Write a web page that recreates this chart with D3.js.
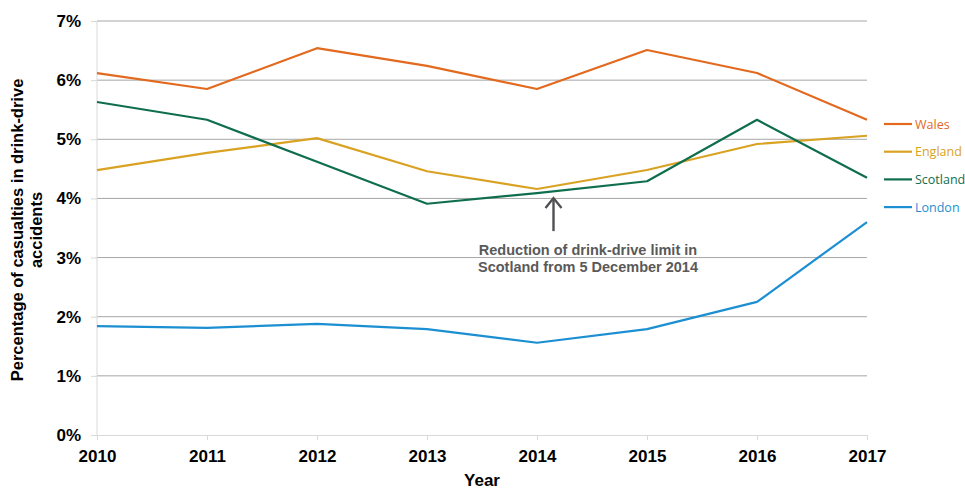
<!DOCTYPE html>
<html><head><meta charset="utf-8">
<script src="https://cdn.jsdelivr.net/npm/d3@7/dist/d3.min.js"></script>
<style>body{margin:0;background:#fff;} svg{display:block;}</style>
</head><body>
<svg id="c" width="965" height="491"></svg>
<script>
const years = [2010, 2011, 2012, 2013, 2014, 2015, 2016, 2017];
const wales    = [6.12, 5.85, 6.54, 6.24, 5.85, 6.51, 6.12, 5.33];
const england  = [4.48, 4.77, 5.02, 4.46, 4.16, 4.48, 4.92, 5.06];
const scotland = [5.63, 5.33, 4.62, 3.91, 4.09, 4.29, 5.33, 4.35];
const london   = [1.84, 1.81, 1.88, 1.79, 1.56, 1.79, 2.25, 3.60];
const yTicks = [0, 1, 2, 3, 4, 5, 6, 7];
const seriesNames = ["Wales", "England", "Scotland", "London"];
const seriesColors = ["#e2691e", "#d9a222", "#0f6e4e", "#1b8fd2"];
const annotation = ["Reduction of drink-drive limit in", "Scotland from 5 December 2014"];
const annotationYear = 2014.15;
const annotationValue = 4.09;

const svg = d3.select("#c");
const x = d3.scaleLinear().domain([2010, 2017]).range([97, 867]);
const y = d3.scaleLinear().domain([0, 7]).range([435, 21]);
const font = "Liberation Sans, Arial, sans-serif";

// gridlines
svg.append("g").selectAll("line").data(yTicks.filter(d => d > 0)).join("line")
  .attr("x1", x(2010)).attr("x2", x(2017))
  .attr("y1", d => y(d)).attr("y2", d => y(d))
  .attr("stroke", "#a6a6a6").attr("stroke-width", 1);

// y axis line
svg.append("line").attr("x1", x(2010)).attr("x2", x(2010))
  .attr("y1", y(0)).attr("y2", y(7)).attr("stroke", "#d9d9d9").attr("stroke-width", 1);

// x axis
const xAxis = d3.axisBottom(x).tickValues(years).tickFormat(d3.format("d")).tickSize(5).tickPadding(10);
const gx = svg.append("g").attr("transform", `translate(0,${y(0)})`).call(xAxis);
gx.select(".domain").attr("stroke", "#d9d9d9");
gx.selectAll(".tick line").attr("stroke", "#d9d9d9");
gx.selectAll(".tick text").attr("font-family", font).attr("font-size", 17)
  .attr("font-weight", "bold").attr("fill", "#000");

// y axis labels
const yAxis = d3.axisLeft(y).tickValues(yTicks).tickFormat(d => d + "%").tickSize(6).tickPadding(10);
const gy = svg.append("g").attr("transform", `translate(${x(2010)},0)`).call(yAxis);
gy.select(".domain").remove();
gy.selectAll(".tick line").attr("stroke", "#d9d9d9");
gy.selectAll(".tick text").attr("font-family", font).attr("font-size", 17)
  .attr("font-weight", "bold").attr("fill", "#000");

// axis titles
svg.append("text").attr("x", 482).attr("y", 486).attr("text-anchor", "middle")
  .attr("font-family", font).attr("font-size", 17).attr("font-weight", "bold").text("Year");
const yt = svg.append("text").attr("transform", "translate(23,230) rotate(-90)")
  .attr("text-anchor", "middle").attr("font-family", font).attr("font-size", 16.5).attr("font-weight", "bold");
yt.append("tspan").attr("x", 0).attr("dy", 0).text("Percentage of casualties in drink-drive");
yt.append("tspan").attr("x", 0).attr("dy", 19).text("accidents");

// lines
const allSeries = [wales, england, scotland, london];
const line = d3.line().x((d, i) => x(years[i])).y(d => y(d));
allSeries.forEach((s, k) => {
  svg.append("path").datum(s).attr("d", line).attr("fill", "none")
    .attr("stroke", seriesColors[k]).attr("stroke-width", 2.2).attr("stroke-linejoin", "round");
});

// legend
const lg = svg.append("g");
seriesNames.forEach((n, k) => {
  const ly = 124 + k * 27.7;
  lg.append("line").attr("x1", 884).attr("x2", 912).attr("y1", ly).attr("y2", ly)
    .attr("stroke", seriesColors[k]).attr("stroke-width", 2.2);
  lg.append("text").attr("x", 915).attr("y", ly + 4.5).attr("font-family", "'Open Sans', sans-serif")
    .attr("font-size", 12.5).attr("fill", seriesColors[k]).text(n);
});

// annotation arrow
const ax = x(annotationYear);
const ay = y(annotationValue);
svg.append("line").attr("x1", ax).attr("x2", ax).attr("y1", ay + 5).attr("y2", ay + 38)
  .attr("stroke", "#505055").attr("stroke-width", 2.4);
svg.append("path").attr("d", `M${ax - 8},${ay + 15} L${ax},${ay + 5} L${ax + 8},${ay + 15}`)
  .attr("fill", "none").attr("stroke", "#505055").attr("stroke-width", 2.4);
const at = svg.append("text").attr("text-anchor", "middle").attr("font-family", font)
  .attr("font-size", 14.5).attr("font-weight", "bold").attr("fill", "#595959");
annotation.forEach((t, i) => {
  at.append("tspan").attr("x", 588).attr("y", 255 + i * 17).text(t);
});
</script>
</body></html>
